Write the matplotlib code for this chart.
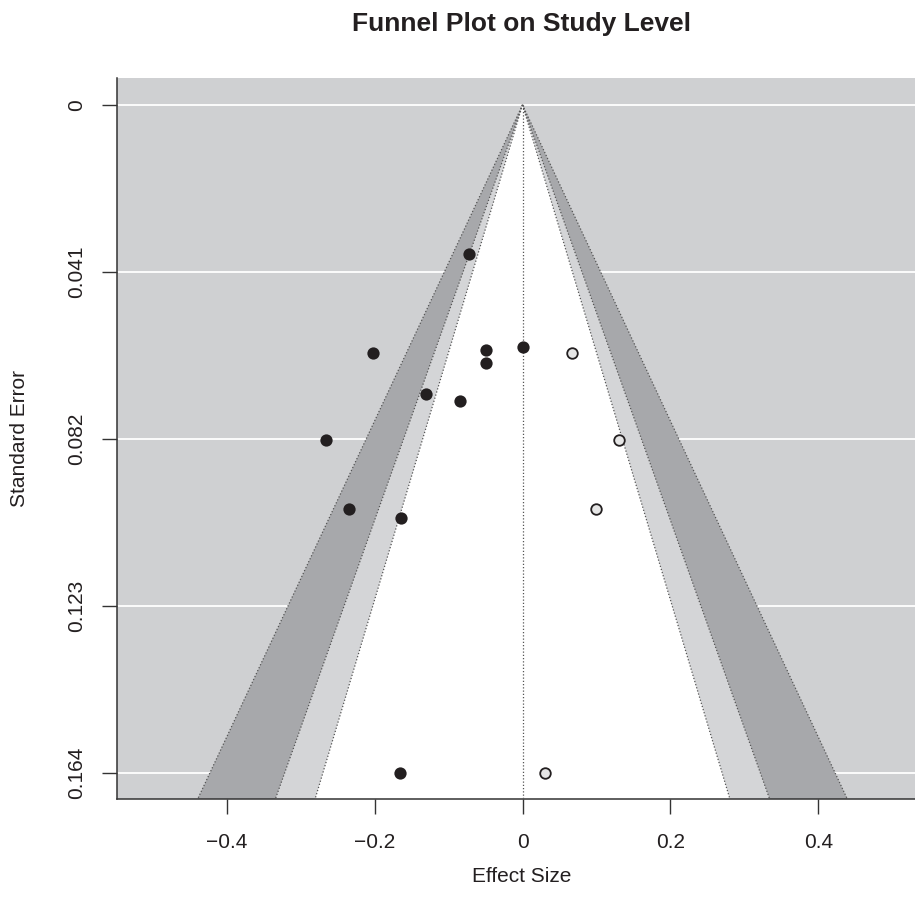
import matplotlib
matplotlib.use("Agg")
import matplotlib.pyplot as plt

# observed studies (effect size, standard error)
effect_obs = [-0.0723, -0.2024, -0.0493, -0.0493, 0.0, -0.1308, -0.0840,
              -0.2655, -0.2345, -0.1642, -0.1655]
se_obs = [0.0367, 0.0610, 0.0601, 0.0633, 0.0595, 0.0710, 0.0728,
          0.0822, 0.0993, 0.1013, 0.1641]

# imputed studies (trim and fill)
effect_fill = [0.0669, 0.1300, 0.0998, 0.0309]
se_fill = [0.0610, 0.0822, 0.0993, 0.1641]

# contour levels 99%, 95%, 90% -> critical z values
z_levels = [2.576, 1.960, 1.645]
z_colors = ['#a7a8ab', '#d4d5d7', '#ffffff']

y_ticks = [0, 0.041, 0.082, 0.123, 0.164]
y_labels = ['0', '0.041', '0.082', '0.123', '0.164']
x_ticks = [-0.4, -0.2, 0, 0.2, 0.4]
x_labels = ['\u22120.4', '\u22120.2', '0', '0.2', '0.4']

BG = '#cfd0d2'
INK = '#231f20'


def main():
    """
Draw the contour enhanced funnel plot.
    """
    plt.rcParams['font.family'] = ['Liberation Sans', 'DejaVu Sans']
    fig = plt.figure(figsize=(9.15, 9.07), dpi=100)
    ax = fig.add_axes([117 / 915, 1 - 799 / 907, 811 / 915, 721 / 907])
    ax.set_facecolor(BG)

    xlim = (-0.548, 0.548)
    ylim = (0.1704, -0.0066)
    se_bot = ylim[0]

    # white grid lines, hidden by the funnel
    for t in y_ticks:
        ax.axhline(t, color='white', lw=1.3, zorder=1)

    # funnel regions
    for z, col in zip(z_levels, z_colors):
        ax.fill([0, -z * se_bot, z * se_bot], [0, se_bot, se_bot],
                color=col, lw=0, zorder=2)
    for z in z_levels:
        for sgn in (-1, 1):
            ax.plot([0, sgn * z * se_bot], [0, se_bot], color='#555555',
                    lw=0.9, ls=(0, (1, 1.6)), zorder=3)
    ax.plot([0, 0], [0, se_bot], color='#555555', lw=0.9,
            ls=(0, (1, 1.6)), zorder=3)

    ax.scatter(effect_obs, se_obs, s=78, color=INK, lw=0, zorder=4)
    ax.scatter(effect_fill, se_fill, s=58, facecolor='#e6e6e6',
               edgecolor=INK, lw=1.3, zorder=4)

    ax.set_xlim(xlim)
    ax.set_ylim(ylim)
    ax.set_xticks(x_ticks, x_labels)
    ax.set_yticks(y_ticks, y_labels)
    for lab in ax.get_yticklabels():
        lab.set_rotation(90)
        lab.set_va('center')
    ax.tick_params(axis='both', direction='out', length=10.5, width=1,
                   color='#333333', labelsize=15, labelcolor=INK)
    ax.tick_params(axis='x', pad=14)
    ax.tick_params(axis='y', pad=12)
    for side in ('top', 'right'):
        ax.spines[side].set_visible(False)
    for side in ('left', 'bottom'):
        ax.spines[side].set_color('#333333')
        ax.spines[side].set_linewidth(1.1)

    fig.text(522 / 915, 1 - 24 / 907, 'Funnel Plot on Study Level',
             ha='center', va='center', fontsize=19, fontweight='bold',
             color=INK)
    fig.text(522 / 915, 1 - 877 / 907, 'Effect Size', ha='center',
             va='center', fontsize=15, color=INK)
    fig.text(20 / 915, 1 - 439 / 907, 'Standard Error', ha='center',
             va='center', rotation=90, fontsize=15, color=INK)

    fig.savefig('out.png', dpi=100)


if __name__ == "__main__":
    main()
